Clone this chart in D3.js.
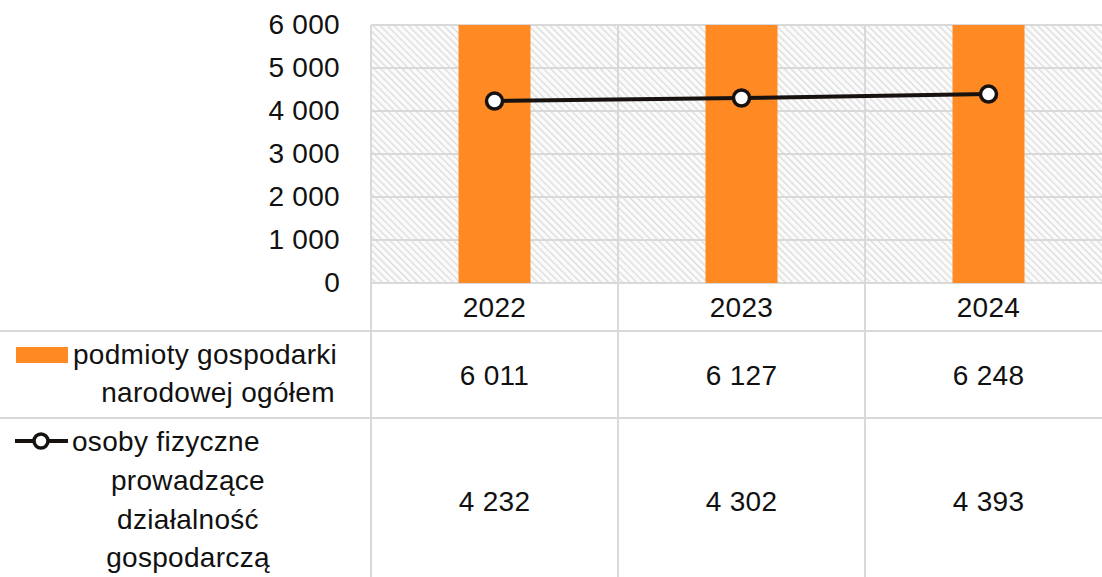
<!DOCTYPE html>
<html>
<head>
<meta charset="utf-8">
<script src="https://d3js.org/d3.v7.min.js"></script>
<style>
  body { margin: 0; background: white; }
  svg { font-family: 'Liberation Sans', Arial, sans-serif; }
  .grid line { stroke: #d9d9d9; stroke-width: 2px; }
  .lbl { font-size: 28px; fill: #111; letter-spacing: 0.3px; }
</style>
</head>
<body>
<svg width="1102" height="577"></svg>
<script>
// data
var years = ["2022", "2023", "2024"];
var podmioty = [6011, 6127, 6248];
var osoby = [4232, 4302, 4393];
var yTicks = [0, 1000, 2000, 3000, 4000, 5000, 6000];
var seriesNames = [["podmioty gospodarki", "narodowej ogółem"],
                   ["osoby fizyczne", "prowadzące", "działalność", "gospodarczą"]];

var svg = d3.select("svg");
var plotL = 371, plotR = 1112, plotT = 25, plotB = 283;
var rowLines = [331, 418];
var fmt = function (d) { return d3.format(",")(d).replace(/,/g, " "); };

var x = d3.scaleBand().domain(years).range([plotL, plotR]);
var y = d3.scaleLinear().domain([0, 6000]).range([plotB, plotT]);
var cx = function (i) { return x(years[i]) + x.bandwidth() / 2; };

// hatch pattern (light diagonal, top-left to bottom-right)
var defs = svg.append("defs");
var pat = defs.append("pattern").attr("id", "hatch")
  .attr("width", 5).attr("height", 5)
  .attr("patternUnits", "userSpaceOnUse")
  .attr("patternTransform", "rotate(-45)");
pat.append("rect").attr("width", 5).attr("height", 5).attr("fill", "#fbfbfb");
pat.append("line").attr("x1", 0).attr("y1", 0).attr("x2", 0).attr("y2", 5)
  .attr("stroke", "#dadada").attr("stroke-width", 2.5);

svg.append("rect").attr("x", plotL).attr("y", plotT)
  .attr("width", plotR - plotL).attr("height", plotB - plotT)
  .attr("fill", "url(#hatch)");

// gridlines
var grid = svg.append("g").attr("class", "grid");
grid.selectAll("line.h").data(yTicks).enter().append("line")
  .attr("x1", plotL).attr("x2", plotR)
  .attr("y1", function (d) { return y(d); }).attr("y2", function (d) { return y(d); });
grid.selectAll("line.v").data(years).enter().append("line")
  .attr("x1", function (d) { return x(d); }).attr("x2", function (d) { return x(d); })
  .attr("y1", plotT).attr("y2", 577);
grid.selectAll("line.r").data(rowLines).enter().append("line")
  .attr("x1", 0).attr("x2", plotR)
  .attr("y1", function (d) { return d; }).attr("y2", function (d) { return d; });

// y labels
svg.selectAll("text.ytick").data(yTicks).enter().append("text")
  .attr("class", "lbl").attr("text-anchor", "end")
  .attr("x", 340).attr("y", function (d) { return y(d) + 9; })
  .text(fmt);

// bars
var bw = 72;
svg.selectAll("rect.bar").data(podmioty).enter().append("rect")
  .attr("fill", "#ff8a24")
  .attr("x", function (d, i) { return cx(i) - bw / 2; })
  .attr("width", bw)
  .attr("y", function (d) { return y(Math.min(d, 6000)); })
  .attr("height", function (d) { return plotB - y(Math.min(d, 6000)); });

// line
var line = d3.line()
  .x(function (d, i) { return cx(i); })
  .y(function (d) { return y(d); });
svg.append("path").datum(osoby).attr("d", line)
  .attr("fill", "none").attr("stroke", "#17120f").attr("stroke-width", 4);
svg.selectAll("circle.pt").data(osoby).enter().append("circle")
  .attr("cx", function (d, i) { return cx(i); })
  .attr("cy", function (d) { return y(d); })
  .attr("r", 8).attr("fill", "white")
  .attr("stroke", "#17120f").attr("stroke-width", 3.5);

// category row
svg.selectAll("text.cat").data(years).enter().append("text")
  .attr("class", "lbl").attr("text-anchor", "middle")
  .attr("x", function (d, i) { return cx(i); })
  .attr("y", 317).text(function (d) { return d; });

// table values
svg.selectAll("text.v1").data(podmioty).enter().append("text")
  .attr("class", "lbl").attr("text-anchor", "middle")
  .attr("x", function (d, i) { return cx(i); })
  .attr("y", 385).text(fmt);
svg.selectAll("text.v2").data(osoby).enter().append("text")
  .attr("class", "lbl").attr("text-anchor", "middle")
  .attr("x", function (d, i) { return cx(i); })
  .attr("y", 511).text(fmt);

// legend keys
svg.append("rect").attr("x", 16).attr("y", 347).attr("width", 52).attr("height", 16)
  .attr("fill", "#ff8a24");
svg.append("line").attr("x1", 15).attr("x2", 68).attr("y1", 441).attr("y2", 441)
  .attr("stroke", "#17120f").attr("stroke-width", 4);
svg.append("circle").attr("cx", 41).attr("cy", 441).attr("r", 7)
  .attr("fill", "white").attr("stroke", "#17120f").attr("stroke-width", 3.5);

// legend text
svg.append("text").attr("class", "lbl").attr("x", 73).attr("y", 364).text(seriesNames[0][0]);
svg.append("text").attr("class", "lbl").attr("text-anchor", "middle")
  .attr("x", 218).attr("y", 402).text(seriesNames[0][1]);
svg.append("text").attr("class", "lbl").attr("x", 72).attr("y", 451).text(seriesNames[1][0]);
seriesNames[1].slice(1).forEach(function (t, i) {
  svg.append("text").attr("class", "lbl").attr("text-anchor", "middle")
    .attr("x", 188).attr("y", 490 + i * 38.5).text(t);
});
</script>
</body>
</html>
